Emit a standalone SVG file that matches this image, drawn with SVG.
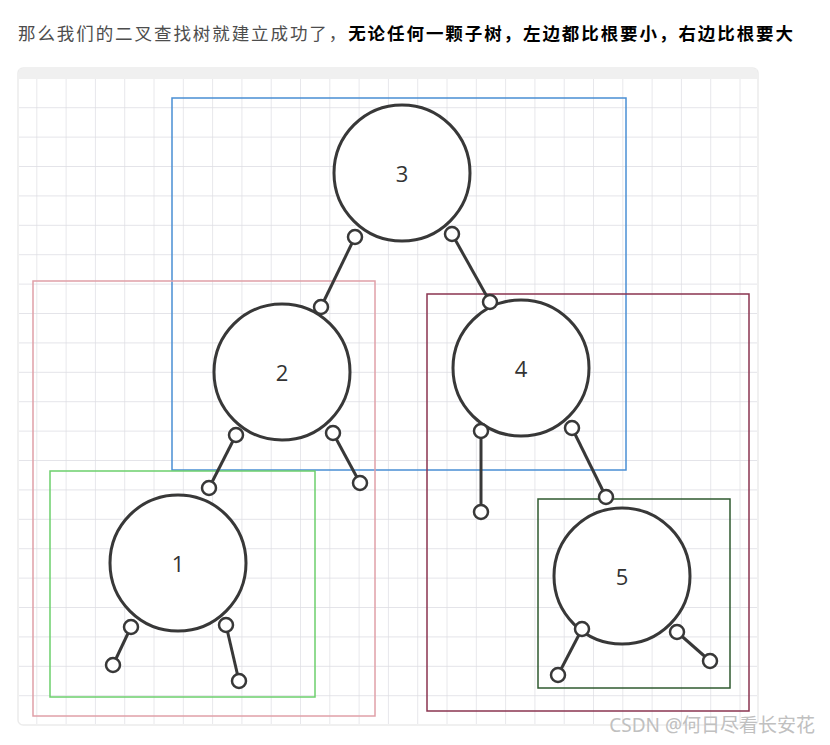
<svg xmlns="http://www.w3.org/2000/svg" width="830" height="745" viewBox="0 0 830 745">
<defs>
<pattern id="grid" x="8" y="20" width="29.3" height="29.4" patternUnits="userSpaceOnUse">
<path d="M29.3 0V29.4M0 29.4H29.3" fill="none" stroke="#dcdce2" stroke-width="1.3"/>
</pattern>
<style>
.node{fill:#fff;stroke:#383838;stroke-width:3}
.port{fill:#fff;stroke:#383838;stroke-width:2.5}
.edge{stroke:#383838;stroke-width:3;fill:none}
.lbl{font-family:"Open Sans","Noto Sans",sans-serif;font-size:22px;fill:#333;text-anchor:middle;dominant-baseline:central}
.box{fill:none;stroke-width:1.5}
</style>
</defs>
<rect width="830" height="745" fill="#fff"/>
<text x="18" y="40" font-family="'Noto Sans CJK SC',sans-serif" font-size="17.5" fill="#4d4d4d" textLength="775" lengthAdjust="spacing">那么我们的二叉查找树就建立成功了，<tspan font-weight="bold" fill="#000">无论任何一颗子树，左边都比根要小，右边比根要大</tspan></text>
<rect x="18" y="68" width="740" height="657" rx="5" fill="#fff" stroke="#ececec" stroke-width="1.5"/>
<rect x="19" y="69" width="738" height="10" fill="#f0f0f0"/>
<rect x="19" y="79" width="738" height="645" fill="url(#grid)"/>
<g id="frames">
<rect class="box" x="172" y="98" width="454" height="372" stroke="#4a8fd4"/>
<rect class="box" x="33" y="281" width="342" height="435" stroke="#e0a0a8"/>
<rect class="box" x="50" y="471" width="265" height="226" stroke="#6ccf6c"/>
<rect class="box" x="427" y="294" width="322" height="417" stroke="#8a3550"/>
<rect class="box" x="538" y="499" width="192" height="189" stroke="#2f5a2f"/>
</g>
<g id="connectors">
<line class="edge" x1="355" y1="237" x2="321" y2="307"/>
<line class="edge" x1="452" y1="234" x2="490" y2="302"/>
<line class="edge" x1="236" y1="435" x2="209" y2="488"/>
<line class="edge" x1="333" y1="433" x2="360" y2="483"/>
<line class="edge" x1="481" y1="431" x2="481" y2="512"/>
<line class="edge" x1="572" y1="428" x2="606" y2="497"/>
<line class="edge" x1="131" y1="627" x2="113" y2="665"/>
<line class="edge" x1="226" y1="625" x2="239" y2="681"/>
<line class="edge" x1="582" y1="629" x2="558" y2="675"/>
<line class="edge" x1="677" y1="632" x2="710" y2="661"/>
</g>
<g id="node3"><circle class="node" cx="402" cy="173" r="68"/><text class="lbl" x="402" y="173">3</text></g>
<g id="node2"><circle class="node" cx="282" cy="372" r="68"/><text class="lbl" x="282" y="372">2</text></g>
<g id="node4"><circle class="node" cx="521" cy="368" r="68"/><text class="lbl" x="521" y="368">4</text></g>
<g id="node1"><circle class="node" cx="178" cy="563" r="68"/><text class="lbl" x="178" y="563">1</text></g>
<g id="node5"><circle class="node" cx="622" cy="576" r="68"/><text class="lbl" x="622" y="576">5</text></g>
<g id="ports">
<circle class="port" cx="355" cy="237" r="7"/><circle class="port" cx="321" cy="307" r="7"/>
<circle class="port" cx="452" cy="234" r="7"/><circle class="port" cx="490" cy="302" r="7"/>
<circle class="port" cx="236" cy="435" r="7"/><circle class="port" cx="209" cy="488" r="7"/>
<circle class="port" cx="333" cy="433" r="7"/><circle class="port" cx="360" cy="483" r="7"/>
<circle class="port" cx="481" cy="431" r="7"/><circle class="port" cx="481" cy="512" r="7"/>
<circle class="port" cx="572" cy="428" r="7"/><circle class="port" cx="606" cy="497" r="7"/>
<circle class="port" cx="131" cy="627" r="7"/><circle class="port" cx="113" cy="665" r="7"/>
<circle class="port" cx="226" cy="625" r="7"/><circle class="port" cx="239" cy="681" r="7"/>
<circle class="port" cx="582" cy="629" r="7"/><circle class="port" cx="558" cy="675" r="7"/>
<circle class="port" cx="677" cy="632" r="7"/><circle class="port" cx="710" cy="661" r="7"/>
</g>
<text x="815" y="732" text-anchor="end" font-family="'Noto Sans','Noto Sans CJK SC',sans-serif" font-size="19" fill="#c0c0c0">CSDN @何日尽看长安花</text>
</svg>
